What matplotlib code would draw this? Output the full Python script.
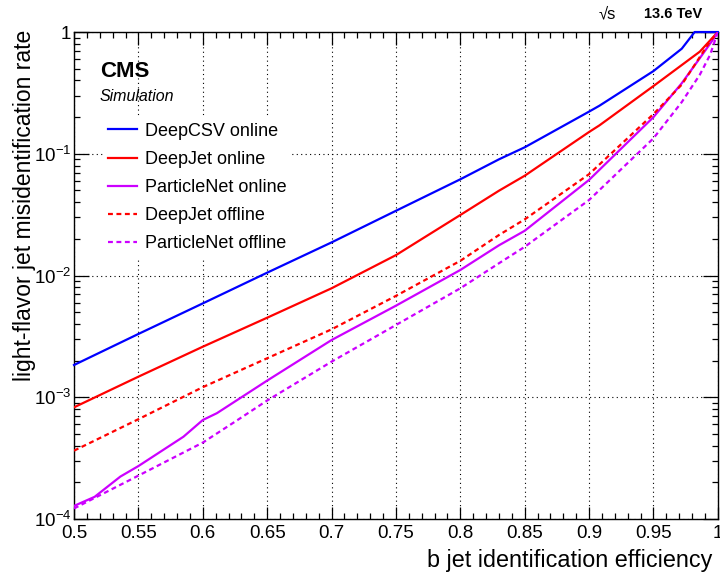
import matplotlib
matplotlib.use("Agg")
import matplotlib.pyplot as plt
from matplotlib.ticker import FixedLocator, LogLocator, NullFormatter, MultipleLocator

plt.rcParams['font.family'] = ['Liberation Sans', 'DejaVu Sans']
plt.rcParams['mathtext.fontset'] = 'custom'
plt.rcParams['mathtext.rm'] = 'Liberation Sans'
plt.rcParams['mathtext.it'] = 'Liberation Sans:italic'
plt.rcParams['mathtext.bf'] = 'Liberation Sans:bold'

# ---- data ----
deepcsv_on_x = [0.50, 0.55, 0.60, 0.65, 0.70, 0.75, 0.80, 0.83, 0.85, 0.90, 0.908, 0.95, 0.972, 0.982, 1.0]
deepcsv_on_y = [1.84e-3, 3.31e-3, 5.9e-3, 1.055e-2, 1.87e-2, 3.4e-2, 6.17e-2, 9.0e-2, 0.113, 0.222, 0.248, 0.478, 0.73, 1.0, 1.0]

deepjet_on_x = [0.50, 0.53, 0.55, 0.60, 0.65, 0.70, 0.75, 0.80, 0.83, 0.85, 0.90, 0.908, 0.95, 0.986, 1.0]
deepjet_on_y = [8.26e-4, 1.17e-3, 1.475e-3, 2.6e-3, 4.5e-3, 7.85e-3, 1.47e-2, 3.14e-2, 4.97e-2, 6.6e-2, 0.151, 0.171, 0.36, 0.69, 1.0]

pnet_on_x = [0.50, 0.516, 0.536, 0.55, 0.585, 0.60, 0.611, 0.65, 0.70, 0.75, 0.80, 0.83, 0.85, 0.90, 0.95, 0.972, 0.986, 0.997, 1.0]
pnet_on_y = [1.28e-4, 1.52e-4, 2.23e-4, 2.72e-4, 4.74e-4, 6.5e-4, 7.4e-4, 1.37e-3, 2.95e-3, 5.65e-3, 1.11e-2, 1.77e-2, 2.33e-2, 6.1e-2, 0.2, 0.38, 0.61, 0.89, 1.0]

deepjet_off_x = [0.50, 0.55, 0.60, 0.65, 0.70, 0.75, 0.80, 0.83, 0.85, 0.90, 0.95, 0.972, 0.994, 1.0]
deepjet_off_y = [3.64e-4, 6.6e-4, 1.21e-3, 2.09e-3, 3.61e-3, 6.8e-3, 1.32e-2, 2.15e-2, 2.89e-2, 6.8e-2, 0.212, 0.37, 0.84, 1.0]

pnet_off_x = [0.50, 0.55, 0.60, 0.627, 0.65, 0.70, 0.75, 0.80, 0.83, 0.85, 0.90, 0.95, 0.972, 0.986, 0.994, 1.0]
pnet_off_y = [1.22e-4, 2.27e-4, 4.24e-4, 6.5e-4, 9.4e-4, 1.96e-3, 3.92e-3, 7.85e-3, 1.26e-2, 1.72e-2, 4.17e-2, 0.134, 0.266, 0.446, 0.65, 1.0]

x_ticks = [0.5, 0.55, 0.6, 0.65, 0.7, 0.75, 0.8, 0.85, 0.9, 0.95, 1.0]
x_tick_labels = ["0.5", "0.55", "0.6", "0.65", "0.7", "0.75", "0.8", "0.85", "0.9", "0.95", "1"]
y_ticks = [1e-4, 1e-3, 1e-2, 1e-1, 1.0]
y_tick_labels = [r"$10^{-4}$", r"$10^{-3}$", r"$10^{-2}$", r"$10^{-1}$", "1"]

BLUE = "#0000ff"
RED = "#ff0000"
VIOLET = "#cc00ff"

fig = plt.figure(figsize=(7.2, 5.72), dpi=100)
ax = fig.add_axes([0.1028, 0.0927, 0.8942, 0.8513])

lw = 1.6
dash = (0, (2.2, 1.6))
ax.plot(deepcsv_on_x, deepcsv_on_y, color=BLUE, lw=lw, label="DeepCSV online", zorder=3, clip_on=False)
ax.plot(deepjet_on_x, deepjet_on_y, color=RED, lw=lw, label="DeepJet online", zorder=3)
ax.plot(pnet_on_x, pnet_on_y, color=VIOLET, lw=lw, label="ParticleNet online", zorder=3)
ax.plot(deepjet_off_x, deepjet_off_y, color=RED, lw=lw, ls=dash, label="DeepJet offline", zorder=3)
ax.plot(pnet_off_x, pnet_off_y, color=VIOLET, lw=lw, ls=dash, label="ParticleNet offline", zorder=3)

ax.set_yscale('log')
ax.set_xlim(0.5, 1.0)
ax.set_ylim(1e-4, 1.0)

ax.xaxis.set_major_locator(FixedLocator(x_ticks))
ax.set_xticklabels(x_tick_labels)
ax.xaxis.set_minor_locator(MultipleLocator(0.01))
ax.yaxis.set_major_locator(FixedLocator(y_ticks))
ax.set_yticklabels(y_tick_labels)
ax.yaxis.set_minor_locator(LogLocator(base=10, subs=range(2, 10), numticks=20))
ax.yaxis.set_minor_formatter(NullFormatter())

ax.tick_params(which='both', direction='in', top=True, right=True, width=0.9, colors='black')
ax.tick_params(which='major', length=9, labelsize=13.5, pad=4)
ax.tick_params(which='minor', length=4.5)
ax.tick_params(axis='y', which='major', length=11, pad=2)
for s in ax.spines.values():
    s.set_linewidth(1.0)

ax.grid(True, which='major', color='black', ls=(0, (1, 3)), lw=0.8)

ax.set_xlabel("b jet identification efficiency", fontsize=16.8, loc='right')
ax.xaxis.set_label_coords(0.992, -0.062)
ax.set_ylabel("light-flavor jet misidentification rate", fontsize=16.5, loc='top')
ax.yaxis.set_label_coords(-0.059, 1.004)

leg = ax.legend(loc='upper left', bbox_to_anchor=(0.045, 0.825), frameon=True, fancybox=False,
                edgecolor='none', facecolor='white', framealpha=1.0, fontsize=13,
                handlelength=1.6, handletextpad=0.45, labelspacing=0.62, borderpad=0.3,
                borderaxespad=0)
leg.set_zorder(5)

ax.text(0.04, 0.918, "CMS", transform=ax.transAxes, fontsize=16, fontweight='bold', va='center', ha='left', zorder=6)
ax.text(0.04, 0.867, "Simulation", transform=ax.transAxes, fontsize=11.5, style='italic', va='center', ha='left', zorder=6)

fig.text(0.843, 0.975, "√s", fontsize=12, ha='center', va='center')
fig.text(0.975, 0.975, "13.6 TeV", fontsize=10.5, fontweight='bold', ha='right', va='center')

fig.savefig("out.png", dpi=100)
